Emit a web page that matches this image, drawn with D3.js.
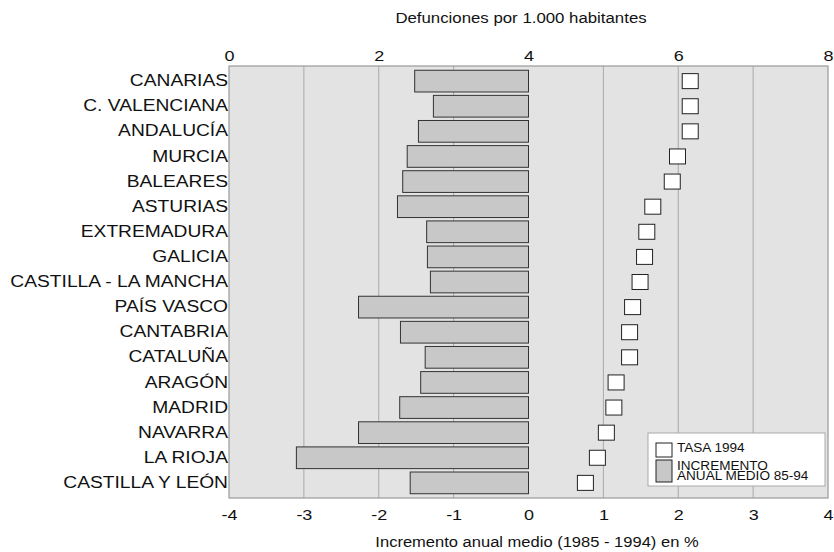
<!DOCTYPE html>
<html>
<head>
<meta charset="utf-8">
<script src="https://cdn.jsdelivr.net/npm/d3@7"></script>
<style>
  body { margin: 0; background: #fff; }
  svg { font-family: "Liberation Sans", Arial, sans-serif; }
</style>
</head>
<body>
<svg id="chart"></svg>
<script>
const regions = ["CANARIAS", "C. VALENCIANA", "ANDALUCÍA", "MURCIA", "BALEARES", "ASTURIAS",
  "EXTREMADURA", "GALICIA", "CASTILLA - LA MANCHA", "PAÍS VASCO", "CANTABRIA", "CATALUÑA",
  "ARAGÓN", "MADRID", "NAVARRA", "LA RIOJA", "CASTILLA Y LEÓN"];
// incremento anual medio 1985-1994 (%)
const incremento = [-1.52, -1.27, -1.47, -1.62, -1.68, -1.75, -1.36, -1.35, -1.31, -2.27,
  -1.71, -1.38, -1.44, -1.72, -2.27, -3.10, -1.58];
// tasa 1994, defunciones por 1.000 habitantes
const tasa = [6.16, 6.16, 6.16, 5.99, 5.92, 5.66, 5.58, 5.55, 5.49, 5.39, 5.35, 5.35,
  5.17, 5.14, 5.04, 4.92, 4.76];
const topTicks = [0, 2, 4, 6, 8];
const bottomTicks = [-4, -3, -2, -1, 0, 1, 2, 3, 4];
const gridTicks = [-3, -2, -1, 1, 2, 3];

const width = 834, height = 552;
const margin = { top: 66, right: 6, bottom: 54, left: 229 };
const w = width - margin.left - margin.right;
const h = height - margin.top - margin.bottom;

// the original text is drawn a bit wider than normal
function stretch(sel, k) {
  sel.each(function () {
    const len = this.getComputedTextLength();
    d3.select(this).attr("textLength", len * k).attr("lengthAdjust", "spacingAndGlyphs");
  });
}

const svg = d3.select("#chart").attr("width", width).attr("height", height);
const g = svg.append("g").attr("transform", `translate(${margin.left},${margin.top})`);

const xPct = d3.scaleLinear().domain([-4, 4]).range([0, w]);
const xTasa = d3.scaleLinear().domain([0, 8]).range([0, w]);
const y = d3.scaleBand().domain(regions).range([0, h]).paddingInner(0.135).paddingOuter(0.17);

g.append("rect").attr("width", w).attr("height", h).attr("fill", "#e3e3e3");

g.selectAll("line.grid")
  .data(gridTicks)
  .join("line")
  .attr("class", "grid")
  .attr("x1", d => xPct(d)).attr("x2", d => xPct(d))
  .attr("y1", 0).attr("y2", h)
  .attr("stroke", "#a9a9a9").attr("stroke-width", 1);

g.append("rect").attr("width", w).attr("height", h)
  .attr("fill", "none").attr("stroke", "#9a9a9a").attr("stroke-width", 1.2);

g.selectAll("rect.bar")
  .data(regions)
  .join("rect")
  .attr("class", "bar")
  .attr("x", (d, i) => xPct(incremento[i]))
  .attr("y", d => y(d))
  .attr("width", (d, i) => xPct(0) - xPct(incremento[i]))
  .attr("height", y.bandwidth())
  .attr("fill", "#c8c8c8")
  .attr("stroke", "#333").attr("stroke-width", 1);

const sqW = 16, sqH = 15;
g.selectAll("rect.tasa")
  .data(regions)
  .join("rect")
  .attr("class", "tasa")
  .attr("x", (d, i) => xTasa(tasa[i]) - sqW / 2)
  .attr("y", d => y(d) + y.bandwidth() / 2 - sqH / 2)
  .attr("width", sqW).attr("height", sqH)
  .attr("fill", "#fff")
  .attr("stroke", "#222").attr("stroke-width", 1);

// axes (labels only, no tick marks)
const topAxis = g.append("g")
  .call(d3.axisTop(xTasa).tickValues(topTicks).tickSize(0).tickPadding(5));
topAxis.select(".domain").remove();
topAxis.selectAll("text").attr("font-size", 15).attr("fill", "#111").attr("font-family", null)
  .call(stretch, 1.2);

const bottomAxis = g.append("g").attr("transform", `translate(0,${h})`)
  .call(d3.axisBottom(xPct).tickValues(bottomTicks).tickFormat(d => String(d))
    .tickSize(0).tickPadding(11));
bottomAxis.select(".domain").remove();
bottomAxis.selectAll("text").attr("font-size", 15).attr("fill", "#111").attr("font-family", null)
  .call(stretch, 1.2);

const leftAxis = g.append("g")
  .call(d3.axisLeft(y).tickSize(0).tickPadding(1));
leftAxis.select(".domain").remove();
leftAxis.selectAll("text").attr("font-size", 16).attr("fill", "#111").attr("font-family", null)
  .call(stretch, 1.2);

svg.append("text")
  .attr("x", 521).attr("y", 23)
  .attr("text-anchor", "middle").attr("font-size", 14).attr("fill", "#111")
  .text("Defunciones por 1.000 habitantes")
  .call(stretch, 1.2);

svg.append("text")
  .attr("x", 537).attr("y", 547)
  .attr("text-anchor", "middle").attr("font-size", 14).attr("fill", "#111")
  .text("Incremento anual medio (1985 - 1994) en %")
  .call(stretch, 1.18);

// legend
const lg = svg.append("g").attr("transform", "translate(648,433)");
lg.append("rect").attr("width", 177).attr("height", 53)
  .attr("fill", "#fff").attr("stroke", "#aaa");
lg.append("rect").attr("x", 8).attr("y", 10).attr("width", 16).attr("height", 14)
  .attr("fill", "#fff").attr("stroke", "#222");
lg.append("rect").attr("x", 8).attr("y", 27).attr("width", 16).attr("height", 22)
  .attr("fill", "#c8c8c8").attr("stroke", "#222");
const lgText = lg.selectAll("text")
  .data([["TASA 1994", 19], ["INCREMENTO", 37], ["ANUAL MEDIO 85-94", 47]])
  .join("text")
  .attr("x", 29).attr("y", d => d[1])
  .attr("font-size", 12).attr("fill", "#111")
  .text(d => d[0]);
lgText.call(stretch, 1.13);
</script>
</body>
</html>
